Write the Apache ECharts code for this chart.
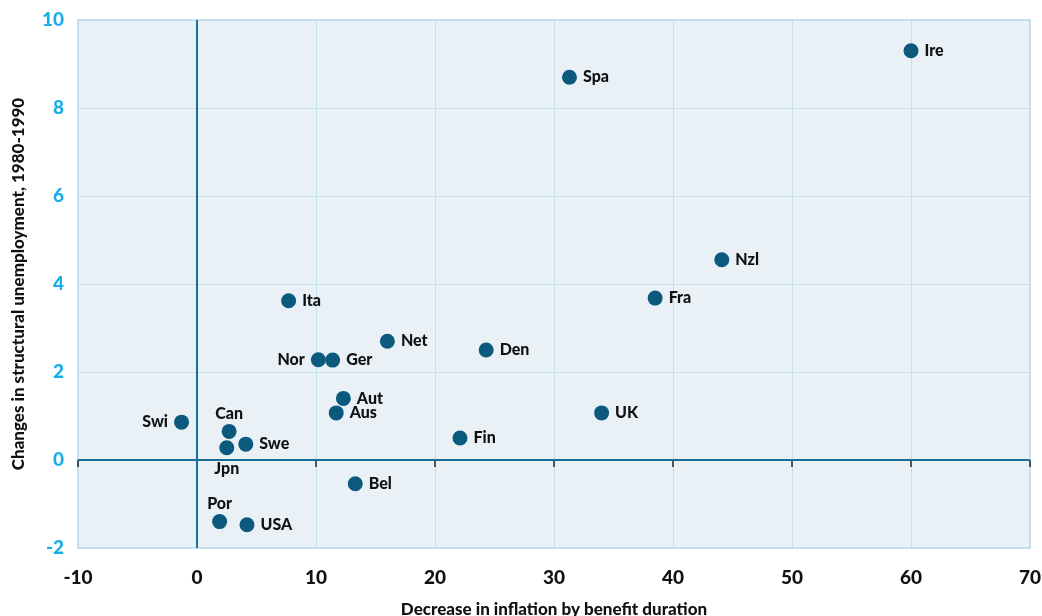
<!DOCTYPE html>
<html><head><meta charset="utf-8">
<script src="https://cdn.jsdelivr.net/npm/echarts@6/dist/echarts.min.js"></script>
<style>html,body{margin:0;padding:0;background:#fff}#c{width:1042px;height:616px}</style>
</head><body><div id="c"></div>
<script>
const countries = ['Ire','Spa','Nzl','Fra','Ita','Net','Den','Nor','Ger','Aut','Aus','UK','Fin','Swi','Can','Jpn','Swe','Bel','Por','USA'];
const xValues = [60.0,31.3,44.1,38.5,7.7,16.0,24.3,10.2,11.4,12.3,11.7,34.0,22.1,-1.3,2.7,2.5,4.1,13.3,1.9,4.2];
const yValues = [9.3,8.7,4.55,3.68,3.62,2.7,2.5,2.28,2.27,1.4,1.07,1.07,0.5,0.86,0.65,0.28,0.36,-0.54,-1.4,-1.47];
const xTicks = [-10,0,10,20,30,40,50,60,70];
const yTicks = [-2,0,2,4,6,8,10];
const xTitle = 'Decrease in inflation by benefit duration';
const yTitle = 'Changes in structural unemployment, 1980-1990';

const labelPlace = {Nor:'left', Swi:'left', Can:'top', Jpn:'bottom', Por:'top'};
const FONT = 'Lato';
const data = countries.map((c,i)=>{
  const pos = labelPlace[c] || 'right';
  return {name:c, value:[xValues[i], yValues[i]], label:{position:pos, distance: pos==='top'?2:(pos==='bottom'?6:6)}};
});

const chart = echarts.init(document.getElementById('c'));
chart.setOption({
  animation:false,
  grid:{left:78,right:12,top:20,bottom:68,show:true,backgroundColor:'#e9f1f6',borderColor:'#c6e0ef',borderWidth:2,outerBoundsMode:'none',containLabel:false},
  xAxis:{type:'value',min:-10,max:70,interval:10,
    name:xTitle,nameLocation:'middle',nameGap:53,
    nameTextStyle:{fontFamily:FONT,fontWeight:900,fontSize:17,color:'#111'},
    axisLine:{show:false},
    axisTick:{show:true,length:7,lineStyle:{color:'#222',width:1.5}},
    axisLabel:{fontFamily:FONT,fontWeight:900,fontSize:19,color:'#111',margin:20},
    splitLine:{show:true,lineStyle:{color:'#c4dff0',width:1}}},
  yAxis:{type:'value',min:-2,max:10,interval:2,
    name:yTitle,nameLocation:'middle',nameGap:51,
    nameTextStyle:{fontFamily:FONT,fontWeight:900,fontSize:17,color:'#111'},
    axisLine:{show:false},axisTick:{show:false},
    axisLabel:{fontFamily:FONT,fontWeight:900,fontSize:19,color:'#19aeea',margin:14},
    splitLine:{show:true,lineStyle:{color:'#c4dff0',width:1}}},
  series:[{
    type:'scatter',symbolSize:15,
    itemStyle:{color:'#0b5a7d',opacity:1},
    label:{show:true,formatter:p=>p.name,fontFamily:FONT,fontWeight:900,fontSize:16,color:'#111'},
    data:data,
    markLine:{silent:true,symbol:'none',label:{show:false},
      lineStyle:{color:'#1a6f98',width:2,type:'solid'},
      data:[{xAxis:0},{yAxis:0}]},
    z:5
  }]
});
</script></body></html>
